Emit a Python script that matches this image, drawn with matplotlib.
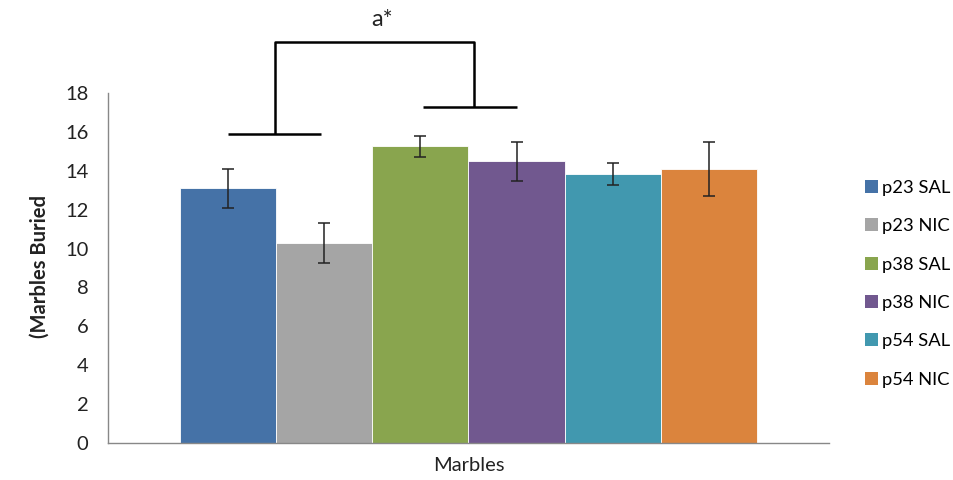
import matplotlib
matplotlib.use("Agg")
import matplotlib.pyplot as plt
from matplotlib.patches import Patch

plt.rcParams['font.family'] = ['Lato', 'DejaVu Sans']

# values
groups = ['p23 SAL', 'p23 NIC', 'p38 SAL', 'p38 NIC', 'p54 SAL', 'p54 NIC']
means = [13.1, 10.3, 15.25, 14.5, 13.85, 14.1]
errors = [1.0, 1.04, 0.53, 1.0, 0.57, 1.39]
colors = ['#4572A7', '#A5A5A5', '#89A54E', '#71588F', '#4198AF', '#DB843D']
yticks = [0, 2, 4, 6, 8, 10, 12, 14, 16, 18]

fig = plt.figure(figsize=(9.54, 4.8), dpi=100)
ax = fig.add_axes([108 / 954, 37 / 480, 721 / 954, 350 / 480])

x = list(range(len(groups)))
ax.bar(x, means, width=1.0, color=colors, edgecolor='white', linewidth=0.6)
ax.errorbar(x, means, yerr=errors, fmt='none', ecolor='#222222',
            elinewidth=1.1, capsize=4, capthick=1.1)

ax.set_xlim(-1.25, 6.25)
ax.set_ylim(0, 18)
ax.set_yticks(yticks)
ax.set_xticks([])
ax.tick_params(axis='y', length=0, pad=14, labelsize=14.5, colors='#222222')
for s in ['top', 'right']:
    ax.spines[s].set_visible(False)
for s in ['left', 'bottom']:
    ax.spines[s].set_color('#888888')
    ax.spines[s].set_linewidth(1.0)

ax.set_xlabel('Marbles', fontsize=14.5, color='#222222', labelpad=10)
fig.text(40 / 954, 1 - 266 / 480, '(Marbles Buried', rotation=90,
         fontsize=14.5, fontweight='bold', ha='center', va='center', color='#222222')

# significance bracket
lw = 1.8
kw = dict(color='black', linewidth=lw, clip_on=False, solid_capstyle='butt')
ax.plot([0, 0.97], [15.9, 15.9], **kw)
ax.plot([2.03, 3.0], [17.27, 17.27], **kw)
ax.plot([0.49, 0.49, 2.56, 2.56], [15.9, 20.6, 20.6, 17.27], **kw)
ax.text(1.6, 21.8, 'a*', fontsize=17, ha='center', va='center', color='#222222')

handles = [Patch(facecolor=c, edgecolor='none') for c in colors]
ax.legend(handles, groups, loc='center left', bbox_to_anchor=(1.0295, 0.455),
          frameon=False, fontsize=13.2, handlelength=0.7, handleheight=0.7,
          handletextpad=0.25, labelspacing=1.22, borderpad=0.3)

fig.savefig('out.png', dpi=100, facecolor='white')
